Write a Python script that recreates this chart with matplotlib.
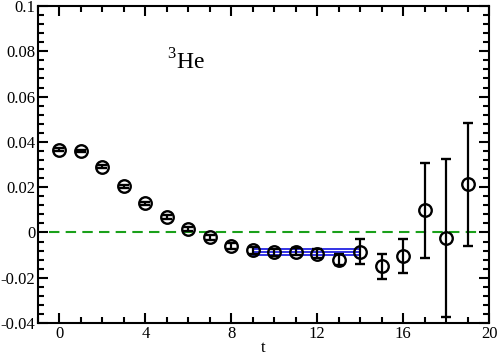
import numpy as np
import matplotlib.pyplot as plt
from matplotlib.ticker import MultipleLocator, FuncFormatter

t = np.arange(20)
vals = [0.0365, 0.0360, 0.0290, 0.0203, 0.0128, 0.0068, 0.0015, -0.0022, -0.0060, -0.0078,
        -0.0088, -0.0085, -0.0093, -0.0120, -0.0085, -0.0150, -0.0105, 0.0097, -0.0025, 0.0212]
errs = [0.0006, 0.0006, 0.0006, 0.0006, 0.0007, 0.0008, 0.0010, 0.0012, 0.0013, 0.0015,
        0.0016, 0.0016, 0.0018, 0.0025, 0.0055, 0.0055, 0.0075, 0.0210, 0.0350, 0.0270]

fit_range = [9, 14]
fit_val = -0.0086
fit_err = 0.0015

plt.rcParams['font.family'] = ['Liberation Serif', 'DejaVu Serif']
plt.rcParams['mathtext.fontset'] = 'custom'
plt.rcParams['mathtext.rm'] = 'Liberation Serif'
fig = plt.figure(figsize=(4.98, 3.55), dpi=100)
ax = fig.add_axes([0.0763, 0.0901, 0.9057, 0.8929])

ax.plot([-0.5, 19.5], [0, 0], color='#1aa01a', ls=(0, (5, 3)), lw=1.5, zorder=1)

for y in [fit_val - fit_err, fit_val, fit_val + fit_err]:
    ax.plot(fit_range, [y, y], color='#1010e0', lw=1.2, zorder=2)

ax.errorbar(t, vals, yerr=errs, fmt='o', mfc='none', mec='black', color='black',
            ms=9, mew=1.7, elinewidth=1.6, capsize=3.5, capthick=1.6, zorder=3)

ax.set_xlim(-1, 20)
ax.set_ylim(-0.04, 0.1)
ax.xaxis.set_major_locator(MultipleLocator(4))
ax.xaxis.set_minor_locator(MultipleLocator(1))
ax.yaxis.set_major_locator(MultipleLocator(0.02))
ax.yaxis.set_minor_locator(MultipleLocator(0.004))
ax.yaxis.set_major_formatter(FuncFormatter(lambda v, p: '%g' % round(v, 4)))
ax.tick_params(which='both', direction='in', top=True, right=True, width=1.5, labelsize=12, pad=2)
ax.tick_params(which='major', length=7)
ax.tick_params(which='minor', length=4)
for s in ax.spines.values():
    s.set_linewidth(1.5)
ax.set_xlabel('t', fontsize=12, labelpad=-1)

ax.text(5.0, 0.072, r'$^{\mathrm{3}}$He', fontsize=17)

fig.savefig('out.png', dpi=100)
